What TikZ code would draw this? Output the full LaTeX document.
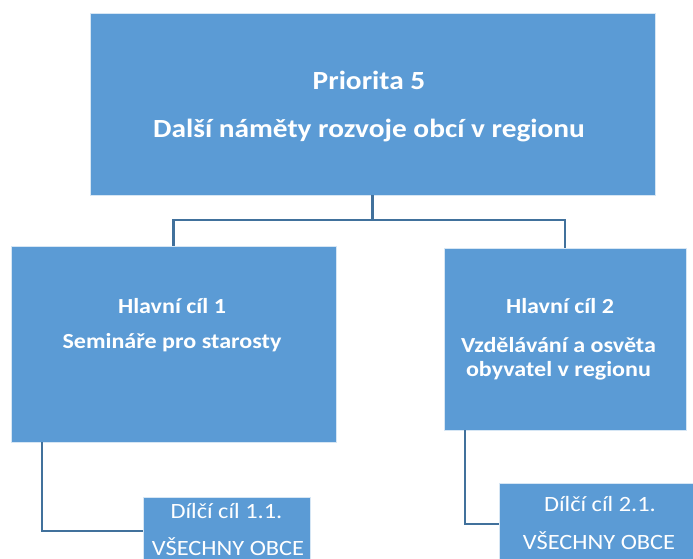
\documentclass[tikz,border=0pt]{standalone}
\usepackage{fontspec}
\setmainfont[FakeStretch=1.12]{Carlito}
\definecolor{boxblue}{HTML}{5B9BD5}
\definecolor{linkblue}{HTML}{41719C}
\begin{document}
\begin{tikzpicture}[x=1pt,y=-1pt,
  box/.style={fill=boxblue,draw=white!75!boxblue,line width=0.8pt,inner sep=0pt},
  conn/.style={draw=linkblue,line width=2.8pt},
  bigtxt/.style={text=white,font=\fontsize{26.2}{30}\selectfont\bfseries,inner sep=0pt,anchor=base},
  midtxt/.style={text=white,font=\fontsize{21.5}{25}\selectfont\bfseries,inner sep=0pt,anchor=base},
  subtxt/.style={text=white,font=\fontsize{21.8}{25}\selectfont,inner sep=0pt,anchor=base}]
\useasboundingbox (0,0) rectangle (693,559);
\clip (0,0) rectangle (693,559);
\fill[white] (0,0) rectangle (693,559);
% boxes
\node[box,minimum width=565pt,minimum height=182pt] (top) at (372.5,104) {};
\node[box,minimum width=325pt,minimum height=196pt] (h1) at (173.5,344) {};
\node[box,minimum width=242pt,minimum height=182pt] (h2) at (565,339) {};
\node[box,minimum width=167pt,minimum height=90pt] (c1) at (226.5,542) {};
\node[box,minimum width=202pt,minimum height=100pt] (c2) at (600,533) {};
% connectors
\coordinate (mid) at (372.5,220);
\draw[conn] (top.south) -- (mid) -| (h1.north);
\draw[conn] (mid) -| (h2.north);
\coordinate (k1) at (42,531);
\coordinate (k2) at (465,524);
\draw[conn] (h1.south -| k1) -- (k1) -- (c1.west |- k1);
\draw[conn] (h2.south -| k2) -- (k2) -- (c2.west |- k2);
% texts
\node[bigtxt] (t1) at (369,89.3) {Priorita 5};
\node[bigtxt] (t2) at (369,137.3) {Další náměty rozvoje obcí v regionu};
\node[midtxt] (t3) at (172,313.3) {Hlavní cíl 1};
\node[midtxt] (t4) at (172,348.3) {Semináře pro starosty};
\node[midtxt] (t5) at (560,313.3) {Hlavní cíl 2};
\node[midtxt] (t6) at (558.5,352.7) {Vzdělávání a osvěta};
\node[midtxt] (t7) at (558.5,376.7) {obyvatel v regionu};
\node[subtxt] (t8) at (226.5,518.3) {Dílčí cíl 1.1.};
\node[subtxt] (t9) at (228,555) {VŠECHNY OBCE};
\node[subtxt] (t10) at (600,511.3) {Dílčí cíl 2.1.};
\node[subtxt] (t11) at (599,549.7) {VŠECHNY OBCE};
\end{tikzpicture}
\end{document}
